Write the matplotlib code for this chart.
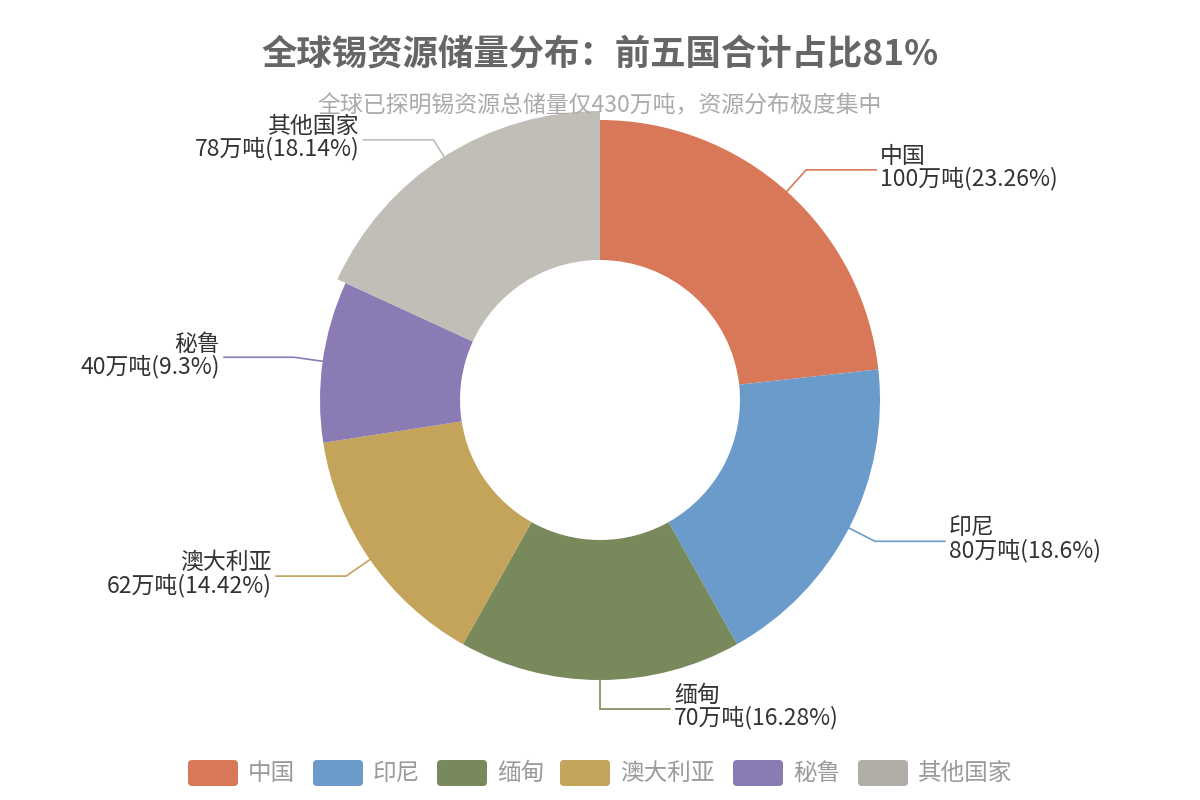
import numpy as np
import matplotlib.pyplot as plt
from matplotlib.patches import FancyBboxPatch

plt.rcParams['font.family'] = ['Noto Sans CJK SC', 'DejaVu Sans']

# data
countries = ['中国', '印尼', '缅甸', '澳大利亚', '秘鲁', '其他国家']
reserves = [100, 80, 70, 62, 40, 78]   # 万吨
pct_labels = ['23.26%', '18.6%', '16.28%', '14.42%', '9.3%', '18.14%']
colors = ['#d97858', '#6a9bcb', '#788a5b', '#c4a35a', '#8b7bb4', '#c0beb6']
legend_colors = ['#d97858', '#6a9bcb', '#788a5b', '#c4a35a', '#8b7bb4', '#b0aea6']
title = '全球锡资源储量分布：前五国合计占比81%'
subtitle = '全球已探明锡资源总储量仅430万吨，资源分布极度集中'

W, H = 1200, 800
fig = plt.figure(figsize=(12, 8), dpi=100)
ax = fig.add_axes([0, 0, 1, 1])

cx, cy = 600, H - 400
R, r_in = 280, 140

wedges, _ = ax.pie(reserves, colors=colors, startangle=90, counterclock=False,
                   radius=R, center=(cx, cy), frame=True,
                   wedgeprops=dict(width=R - r_in, linewidth=0))
# highlighted slice (其他国家) drawn slightly larger
wedges[5].set_radius(R + 9)
wedges[5].set_width(R + 9 - r_in)
ax.set_xlim(0, W)
ax.set_ylim(0, H)
ax.set_aspect('equal')
ax.axis('off')

total = sum(reserves)
cum = np.cumsum([0] + reserves)
# side of the horizontal leader segment
sides = [1, 1, 1, -1, -1, -1]
for i, (name, v) in enumerate(zip(countries, reserves)):
    mid = 90 - (cum[i] + v / 2) / total * 360
    a = np.radians(mid)
    rr = R + 9 if i == 5 else R
    x0, y0 = cx + rr * np.cos(a), cy + rr * np.sin(a)
    x1, y1 = cx + (R + 29) * np.cos(a), cy + (R + 29) * np.sin(a)
    s = sides[i]
    x2 = x1 + s * 70
    ax.plot([x0, x1, x2], [y0, y1, y1], color=colors[i], lw=1.2,
            solid_joinstyle='miter')
    ha = 'left' if s > 0 else 'right'
    ax.text(x2 + s * 4, y1 + 2, f'{name}\n{v}万吨({pct_labels[i]})',
            ha=ha, va='center', fontsize=16.5, color='#333333',
            linespacing=0.95, multialignment=ha)

# title
ax.text(W / 2, H - 55, title, ha='center', va='center', fontsize=25.5,
        fontweight='bold', color='#666666')
ax.text(W / 2, H - 106, subtitle, ha='center', va='center', fontsize=16.5,
        color='#aaaaaa')

# legend
box_x = [188, 313, 437, 560, 733, 858]
for bx, name, c in zip(box_x, countries, legend_colors):
    ax.add_patch(FancyBboxPatch((bx + 4, H - 786 + 4), 42, 18,
                                boxstyle='round,pad=4', fc=c, ec='none'))
    ax.text(bx + 60, H - 773, name, ha='left', va='center', fontsize=17,
            color='#9a9a9a')

fig.savefig('out.png', dpi=100)
